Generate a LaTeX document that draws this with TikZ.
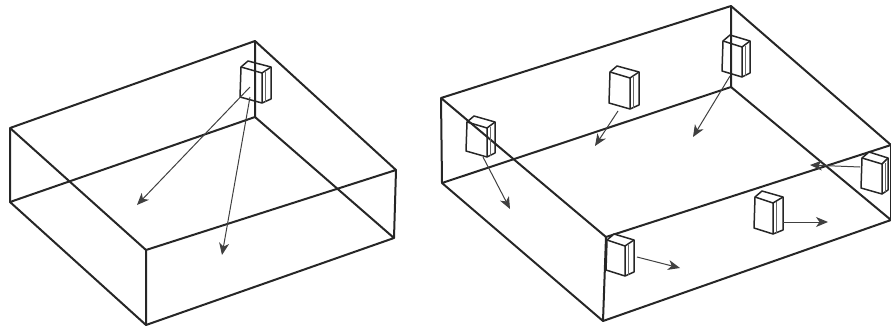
\documentclass[tikz,border=0pt]{standalone}
\usetikzlibrary{arrows.meta}

\begin{document}
\begin{tikzpicture}[
        x = 1pt,
        y = -1pt,
        >= {Stealth[length = 12pt, width = 10pt, inset = 3.5pt]},
        wall/.style = {draw = black!85, line width = 2pt, line join = round},
        beam/.style = {->, draw = black!75, line width = 1pt},
        pics/speaker/.style n args = {3}{code = {
            \draw[draw = black!85, line width = 1.5pt, line join = round, pic actions]
                (0,0) -- (7,-6) -- ({#1+#3},0) -- ({#1+#3},#2+2) -- (#1,#2+6) -- (-1,#2) -- cycle;
            \draw[draw = black!85, line width = 1.5pt, line join = round]
                (0,0) -- (#1,6) -- ({#1+#3},0)
                (#1,6) -- (#1,#2+6);
            \draw[draw = black!60, line width = 0.7pt]
                (#1+3,5) -- (#1+3,#2+5);
        }}
    ]

    \useasboundingbox (0,0) rectangle (891,327);

    % left room
    \coordinate (l_tl) at (10,128);
    \coordinate (l_tb) at (255,41);
    \coordinate (l_tr) at (396,170);
    \coordinate (l_tf) at (146,250);
    \coordinate (l_bl) at (10,202);
    \coordinate (l_bb) at (255,117);
    \coordinate (l_br) at (394,238);
    \coordinate (l_bf) at (146,325);

    \draw[wall] (l_tl) -- (l_tb) -- (l_tr) -- (l_tf) -- cycle;
    \draw[wall] (l_bl) -- (l_bb) -- (l_br) -- (l_bf) -- cycle;
    \draw[wall] (l_tl) -- (l_bl) (l_tb) -- (l_bb) (l_tr) -- (l_br) (l_tf) -- (l_bf);

    % right room
    \coordinate (r_tl) at (441,98);
    \coordinate (r_tb) at (731,6);
    \coordinate (r_tr) at (891,145);
    \coordinate (r_tf) at (606,237);
    \coordinate (r_bl) at (442,183);
    \coordinate (r_bb) at (731,87);
    \coordinate (r_br) at (891,220);
    \coordinate (r_bf) at (603,321);

    \draw[wall] (r_tl) -- (r_tb) -- (r_tr) -- (r_tf) -- cycle;
    \draw[wall] (r_bl) -- (r_bb) -- (r_br) -- (r_bf) -- cycle;
    \draw[wall] (r_tl) -- (r_bl) (r_tb) -- (r_bb) (r_tr) -- (r_br) (r_tf) -- (r_bf);

    % speakers
    \pic at (241,67) {speaker = {21}{30}{9}};
    \pic at (723,41) {speaker = {19}{30}{8}};
    \pic at (467,122) {speaker = {20}{29}{8}};
    \pic[fill = white] at (610,72) {speaker = {20}{31}{9}};
    \pic[fill = white] at (607,240) {speaker = {18}{30}{9}};
    \pic[fill = white] at (755,197) {speaker = {18}{31}{10}};
    \pic[fill = white] at (862,158) {speaker = {20}{30}{6}};

    % arrow ends
    \coordinate (a1_s) at (250,87);
    \coordinate (a1_e) at (137,205);
    \coordinate (a2_s) at (250,97);
    \coordinate (a2_e) at (222,255);
    \coordinate (a3_s) at (618,111);
    \coordinate (a3_e) at (595,146);
    \coordinate (a4_s) at (730,76);
    \coordinate (a4_e) at (693,137);
    \coordinate (a5_s) at (483,157);
    \coordinate (a5_e) at (510,209);
    \coordinate (a6_s) at (637,257);
    \coordinate (a6_e) at (680,268);
    \coordinate (a7_s) at (783,222);
    \coordinate (a7_e) at (828,222);
    \coordinate (a8_s) at (860,167);
    \coordinate (a8_e) at (810,165);

    \foreach \i in {1,...,8}
        \draw[beam] (a\i_s) -- (a\i_e);

\end{tikzpicture}
\end{document}
